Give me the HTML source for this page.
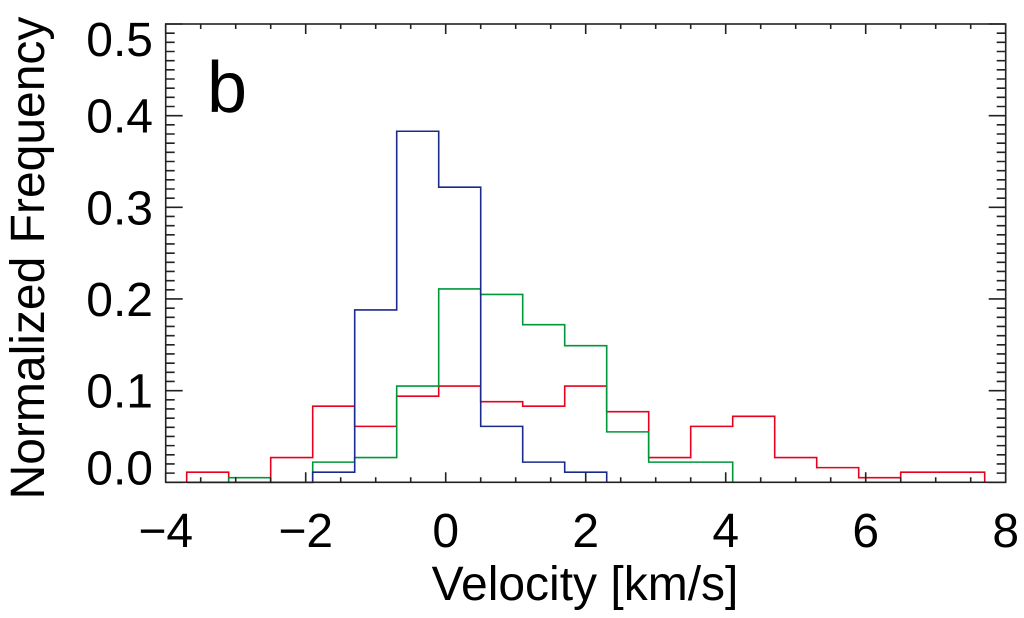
<!DOCTYPE html>
<html><head><meta charset="utf-8"><style>
html,body{margin:0;padding:0;background:#fff;}
svg{display:block;font-family:"Liberation Sans",sans-serif;}
</style></head><body>
<svg id="chart" width="1024" height="618" viewBox="0 0 1024 618" xmlns="http://www.w3.org/2000/svg"></svg>
<script>
const binStart = -3.7;
const binWidth = 0.6;
const redValues = [0.011,0,0.027,0.083,0.061,0.094,0.105,0.088,0.083,0.105,0.077,0.027,0.061,0.072,0.027,0.016,0.005,0.011,0.011];
const greenValues = [0,0.005,0,0.022,0.027,0.105,0.211,0.205,0.172,0.149,0.055,0.022,0.022];
const blueValues = [0,0,0,0.011,0.188,0.383,0.322,0.061,0.022,0.011];
const xTicks = [-4,-2,0,2,4,6,8];
const xTickLabels = ["\u22124","\u22122","0","2","4","6","8"];
const yTicks = [0,0.1,0.2,0.3,0.4,0.5];
const yTickLabels = ["0.0","0.1","0.2","0.3","0.4","0.5"];

const NS="http://www.w3.org/2000/svg";
const svg=document.getElementById('chart');
const L=165.7,R=1005.7,T=24,B=482.3;
const xMin=-4,xMax=8,yMin=0,yMax=0.5;
const X=v=>L+(v-xMin)/(xMax-xMin)*(R-L);
const Y=v=>B-(v-yMin)/(yMax-yMin)*(B-T);
function mk(tag,attrs){const e=document.createElementNS(NS,tag);for(const k in attrs)e.setAttribute(k,attrs[k]);svg.appendChild(e);return e;}

function hist(vals,color,name){
  let d='';
  let started=false;
  vals.forEach((v,i)=>{
    const x0=X(binStart+i*binWidth),x1=X(binStart+(i+1)*binWidth);
    if(!started){d+=`M${x0},${Y(0)}`;started=true;}
    d+=`L${x0},${Y(v)}L${x1},${Y(v)}`;
  });
  const xe=X(binStart+vals.length*binWidth);
  d+=`L${xe},${Y(0)}`;
  const p=mk('path',{d:d,fill:'none',stroke:color,'stroke-width':1.6});
  
  
}
hist(redValues,'#e8001c','red-series');
hist(greenValues,'#00963a','green-series');
hist(blueValues,'#1a2a8c','blue-series');

const box=mk('rect',{x:L,y:T,width:R-L,height:B-T,fill:'none',stroke:'#222','stroke-width':1.6});



let td='';
for(let i=0;i<=24;i++){
  const v=xMin+i*0.5, x=X(v);
  const len=(Math.abs(v%2)<1e-6)?10:5;
  td+=`M${x},${B}V${B-len}M${x},${T}V${T+len}`;
}
for(let i=0;i<=50;i++){
  const v=i*0.01,y=Y(v);
  const len=(i%10===0)?17:9;
  td+=`M${L},${y}H${L+len}M${R},${y}H${R-len}`;
}
const ticks=mk('path',{d:td,stroke:'#222','stroke-width':1.6,fill:'none'});



xTicks.forEach((v,i)=>{
  const t=mk('text',{x:X(v),y:547,'font-size':48,'text-anchor':'middle',fill:'#000'});
  t.textContent=xTickLabels[i];
  
  
});
yTicks.forEach((v,i)=>{
  let y=Y(v)+17;
  if(i===0) y=Y(v)+2;
  if(i===yTicks.length-1) y=Y(v)+32;
  const t=mk('text',{x:153,y:y,'font-size':48,'text-anchor':'end',fill:'#000'});
  t.textContent=yTickLabels[i];
  
  
});
const xt=mk('text',{x:585,y:600,'font-size':48,'text-anchor':'middle',fill:'#000'});
xt.textContent='Velocity [km/s]';


const yt=mk('text',{x:0,y:0,'font-size':48,'text-anchor':'middle',fill:'#000',transform:'translate(44,258) rotate(-90)'});
yt.textContent='Normalized Frequency';


const pl=mk('text',{x:207,y:112,'font-size':72,fill:'#000'});
pl.textContent='b';


</script>
</body></html>
